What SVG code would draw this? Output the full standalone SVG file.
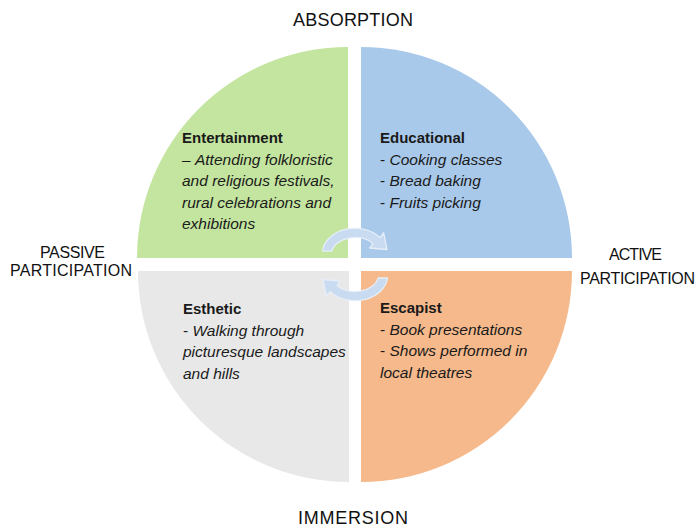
<svg xmlns="http://www.w3.org/2000/svg" width="697" height="529" viewBox="0 0 697 529">
<style>
.lbl{font-family:"Liberation Sans",Arial,sans-serif;font-size:16px;fill:#111;text-anchor:middle}
.axis{font-size:18px}
.q{font-family:"Liberation Sans",Arial,sans-serif;font-size:15.5px;fill:#1a1a1a}
.t{font-weight:bold;font-size:15px}
.i{font-style:italic}
.arrow{fill:#c9dbf0;stroke:#e6eef8;stroke-width:1.3;stroke-linejoin:round}
</style>
<rect width="697" height="529" fill="#ffffff"/>
<g id="entertainment">
<path d="M348,258 L137,258 A211,211 0 0 1 348,47 Z" fill="#c4e59f"/>
<text class="q t" x="182" y="143">Entertainment</text>
<text class="q" x="182" y="164.5">– <tspan class="i">Attending folkloristic</tspan></text>
<text class="q i" x="182" y="186">and religious festivals,</text>
<text class="q i" x="182" y="207.5">rural celebrations and</text>
<text class="q i" x="182" y="229">exhibitions</text>
</g>
<g id="educational">
<path d="M361,258 L361,47 A211,211 0 0 1 572,258 Z" fill="#a9c9ea"/>
<text class="q t" x="380" y="143">Educational</text>
<text class="q" x="380" y="164.5">- <tspan class="i">Cooking classes</tspan></text>
<text class="q" x="380" y="186">- <tspan class="i">Bread baking</tspan></text>
<text class="q" x="380" y="207.5">- <tspan class="i">Fruits picking</tspan></text>
</g>
<g id="esthetic">
<path d="M349,271 L349,482 A211,211 0 0 1 138,271 Z" fill="#e8e8e8"/>
<text class="q t" x="183" y="314">Esthetic</text>
<text class="q" x="183" y="335.5">- <tspan class="i">Walking through</tspan></text>
<text class="q i" x="183" y="357">picturesque landscapes</text>
<text class="q i" x="183" y="378.5">and hills</text>
</g>
<g id="escapist">
<path d="M361,271 L572,271 A211,211 0 0 1 361,482 Z" fill="#f5b98b"/>
<text class="q t" x="380" y="313">Escapist</text>
<text class="q" x="380" y="334.5">- <tspan class="i">Book presentations</tspan></text>
<text class="q" x="380" y="356">- <tspan class="i">Shows performed in</tspan></text>
<text class="q i" x="380" y="377.5">local theatres</text>
</g>
<g id="connectors">
<path id="arrow-top" class="arrow" d="M322.5,251 A32.5,25.5 0 0 1 379.9,237.6 L383.6,232.8 L387,249.5 L369.7,248 L373,243.4 A23.5,16.5 0 0 0 331.9,251.1 Z"/>
<path id="arrow-bottom" class="arrow" transform="rotate(180 355 264.5)" d="M322.5,251 A32.5,25.5 0 0 1 379.9,237.6 L383.6,232.8 L387,249.5 L369.7,248 L373,243.4 A23.5,16.5 0 0 0 331.9,251.1 Z"/>
</g>
<g id="labels">
<text class="lbl axis" x="353" y="26" textLength="120">ABSORPTION</text>
<text class="lbl axis" x="353" y="524" textLength="110">IMMERSION</text>
<text class="lbl" x="72.5" y="258" textLength="65">PASSIVE</text>
<text class="lbl" x="71" y="276" textLength="122">PARTICIPATION</text>
<text class="lbl" x="635.5" y="260" textLength="53">ACTIVE</text>
<text class="lbl" x="637.5" y="284" textLength="115">PARTICIPATION</text>
</g>
</svg>
